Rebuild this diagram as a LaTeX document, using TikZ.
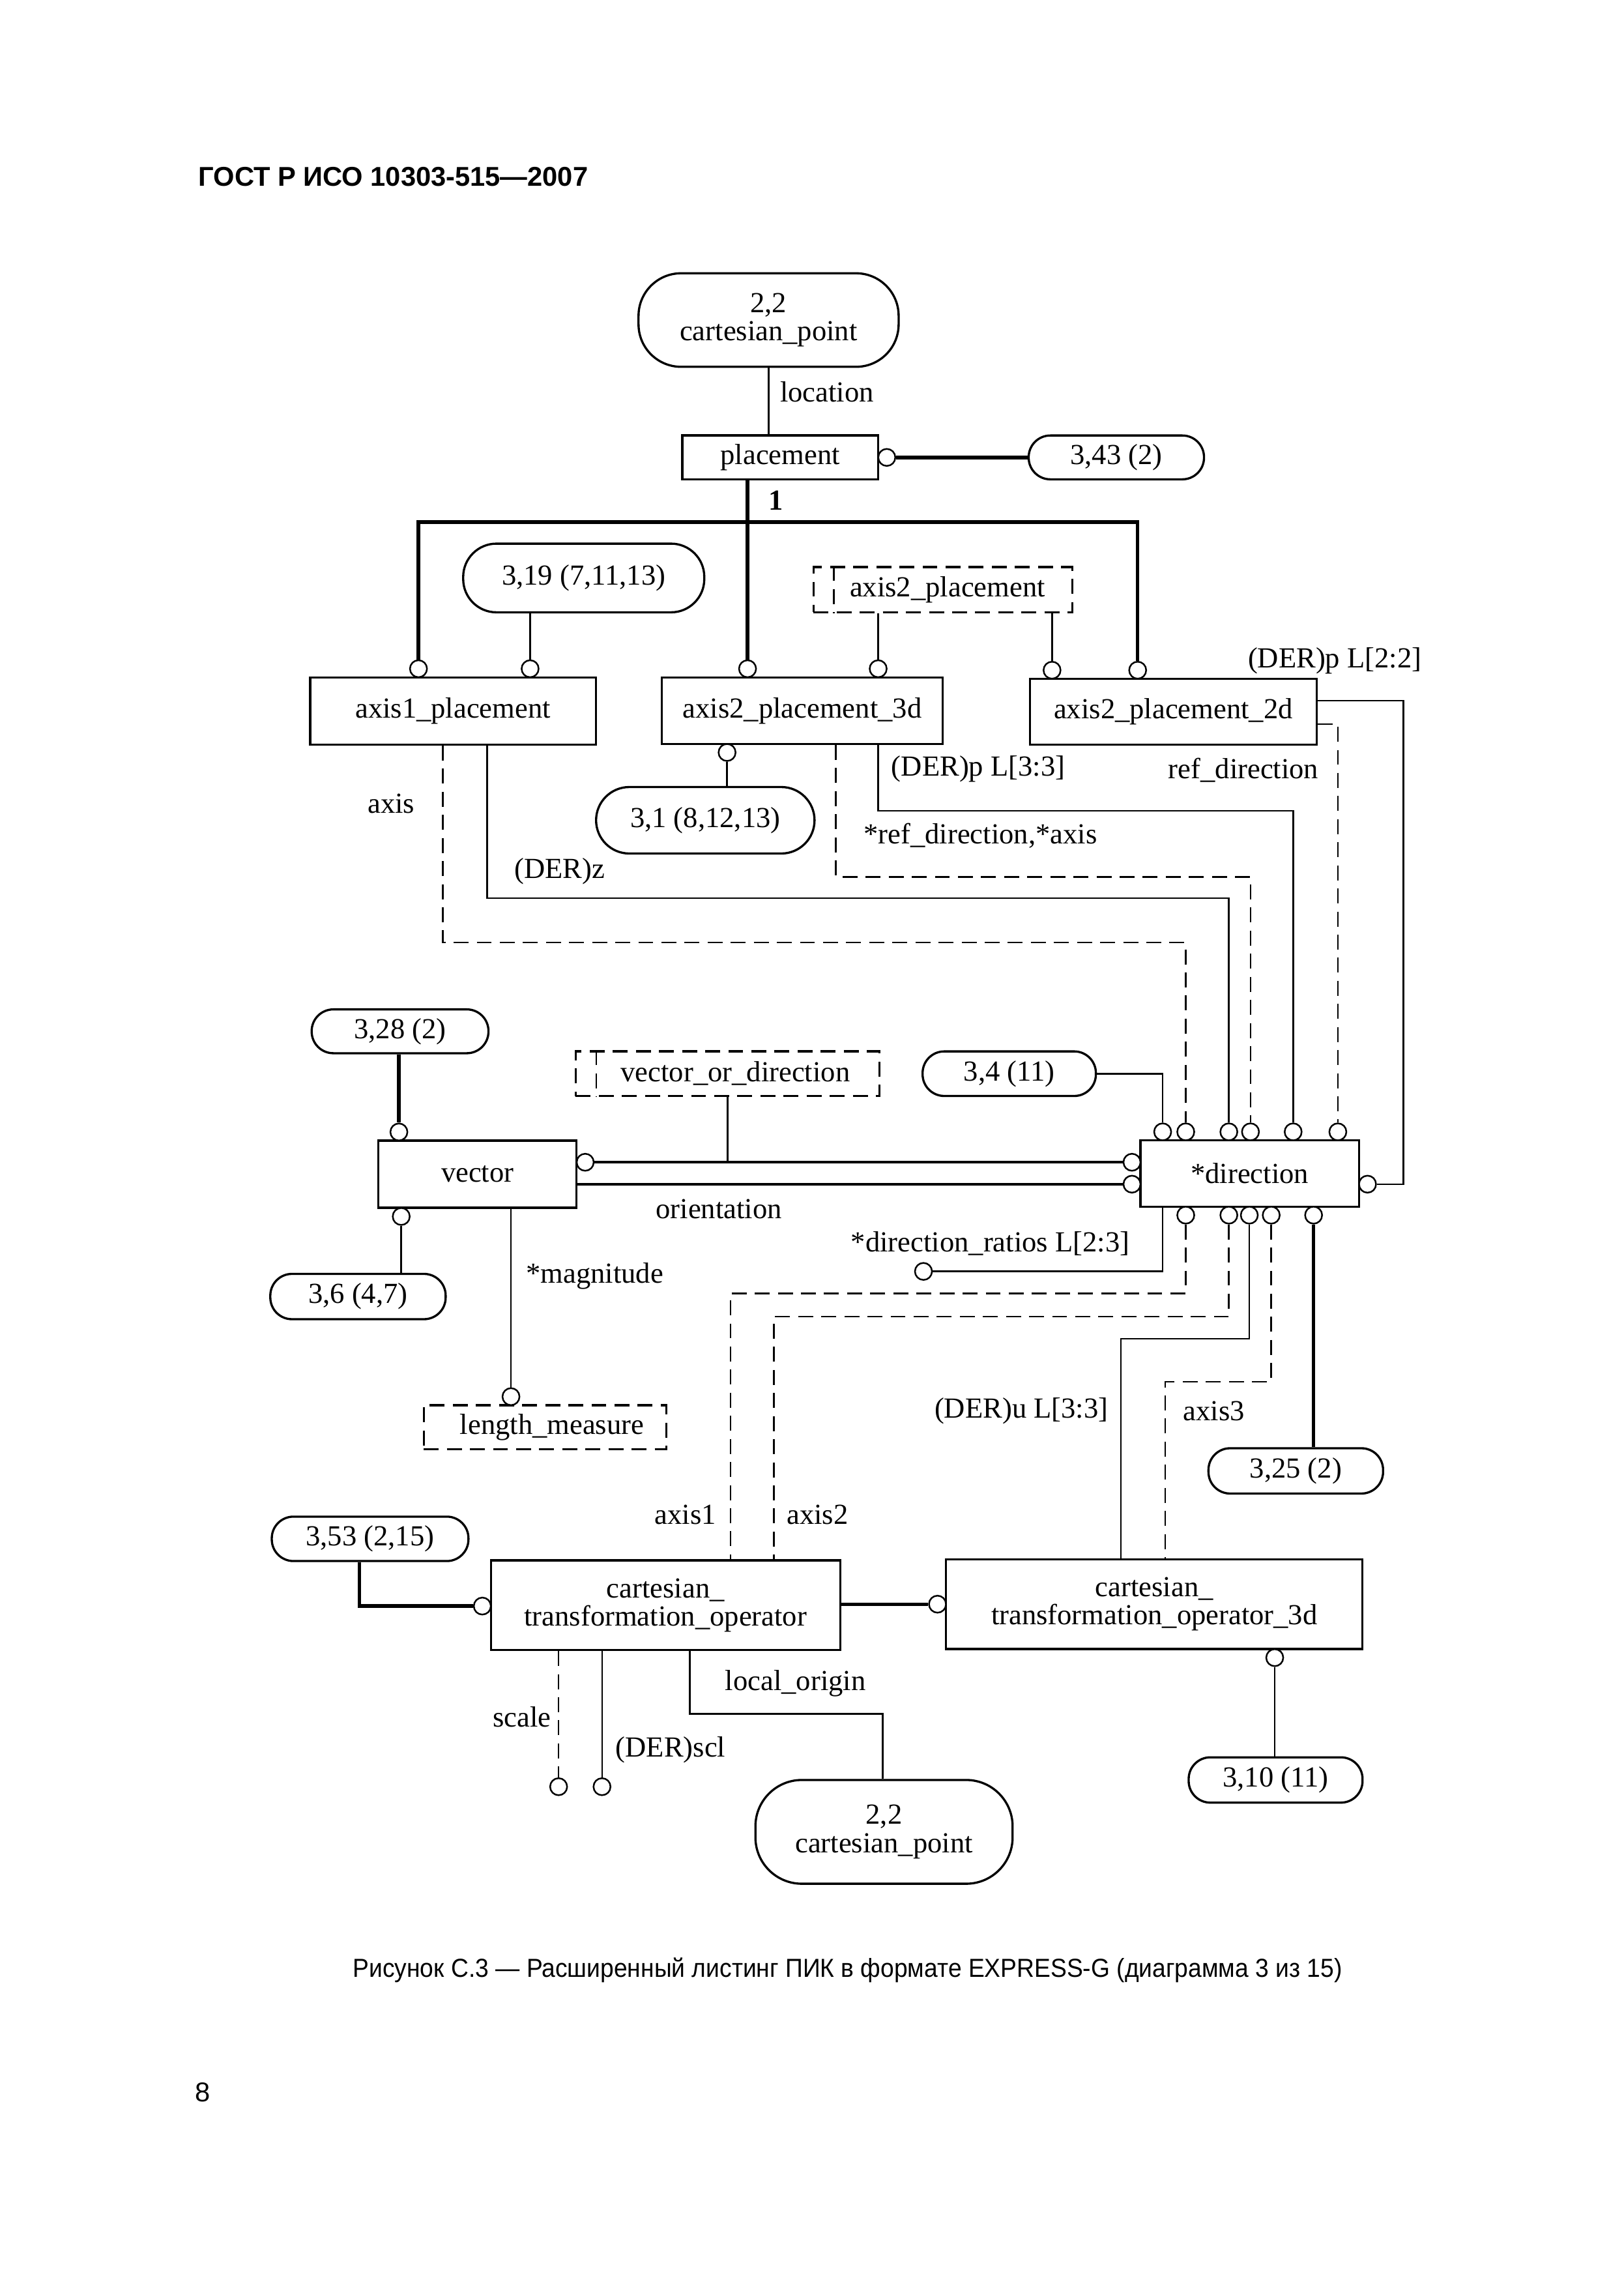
\documentclass[tikz,border=0pt]{standalone}
\usepackage{fontspec}
\usepackage{graphicx}
\setmainfont{Liberation Serif}
\newfontfamily\hdrfont{Liberation Sans}
\usetikzlibrary{calc}
\newcommand\dgfont{\fontsize{10.7}{10.4}\selectfont}
\begin{document}
\begin{tikzpicture}[x=0.0189cm, y=-0.0189cm,
  sz/.style 2 args={minimum width=#1*0.0189cm, minimum height=#2*0.0189cm},
  ent/.style={draw, line width=0.8pt, rectangle, inner sep=0pt, font=\dgfont, align=center},
  rnd/.style={draw, line width=0.8pt, rounded corners=#1, inner sep=0pt, font=\dgfont, align=center},
  dsh/.style={line width=0.6pt, dash pattern=on 5.5pt off 3pt},
  sel/.style={draw, line width=0.8pt, dash pattern=on 5.5pt off 3pt, inner sep=0pt, font=\dgfont, align=center},
  ring/.style={draw, circle, line width=0.6pt, inner sep=0pt, minimum size=0.22cm, fill=white},
  thn/.style={line width=0.6pt},
  med/.style={line width=1pt},
  thk/.style={line width=1.3pt},
  lbl/.style={font=\dgfont, inner sep=0pt}
]
\useasboundingbox (0,0) rectangle (1111,1567.7);
\fill[white] (0,0) rectangle (1111,1567.7);

% header, caption, page number
\node[anchor=base west, inner sep=0pt, font=\hdrfont\bfseries\fontsize{10}{12}\selectfont] (hdr) at (135.5,127.5) {ГОСТ Р ИСО 10303-515—2007};
\node[inner sep=0pt, font=\hdrfont\fontsize{9.6}{11}\selectfont] (cap) at (580,1348) {\scalebox{0.93}[1]{Рисунок С.3 — Расширенный листинг ПИК в формате EXPRESS-G (диаграмма 3 из 15)}};
\node[anchor=base west, inner sep=0pt, font=\hdrfont\fontsize{10}{12}\selectfont] (pg) at (133,1438) {8};

% entities and references
\node[rnd=0.55cm, sz={178}{64}] (cp1) at (526,219) {2,2\\cartesian\_point};
\node[ent, sz={134}{30}] (plc) at (534,313) {placement};
\node[rnd=0.28cm, sz={120}{30}] (r343) at (764,313) {3,43 (2)};
\node[rnd=0.43cm, sz={165}{47}] (r319) at (399.5,395.5) {3,19 (7,11,13)};
\node[sel, sz={177}{31}] (a2p) at (645.3,403.5) {\hspace*{0.12cm}axis2\_placement};
\node[ent, sz={195.5}{46}] (a1p) at (310,486.5) {axis1\_placement};
\node[ent, sz={192}{45.5}] (a23) at (549,486.3) {axis2\_placement\_3d};
\node[ent, sz={196}{45}] (a22) at (803,487) {axis2\_placement\_2d};
\node[rnd=0.43cm, sz={149.5}{45.5}] (r31) at (482.7,561.3) {3,1 (8,12,13)};
\node[rnd=0.28cm, sz={121}{30}] (r328) at (273.8,705.7) {3,28 (2)};
\node[sel, sz={208}{30.5}] (vod) at (498,734.7) {\hspace*{0.2cm}vector\_or\_direction};
\node[rnd=0.28cm, sz={118.6}{30.5}] (r34) at (690.7,734.7) {3,4 (11)};
\node[ent, sz={135.6}{46}] (vec) at (326.8,803.5) {vector};
\node[ent, sz={149.5}{45.3}] (dir) at (855.3,803) {*direction};
\node[rnd=0.28cm, sz={120}{31}] (r36) at (245,887.2) {3,6 (4,7)};
\node[sel, sz={166}{30}] (lm) at (373,976.6) {\hspace*{0.18cm}length\_measure};
\node[rnd=0.28cm, sz={119.5}{31}] (r325) at (886.8,1006.5) {3,25 (2)};
\node[rnd=0.28cm, sz={134.6}{30.4}] (r353) at (253.3,1053) {3,53 (2,15)};
\node[ent, sz={239}{61.3}] (cto) at (455.5,1098.4) {cartesian\_\\transformation\_operator};
\node[ent, sz={285}{61.4}] (cto3) at (790,1097.7) {cartesian\_\\transformation\_operator\_3d};
\node[rnd=0.28cm, sz={119}{31}] (r310) at (873,1218) {3,10 (11)};
\node[rnd=0.6cm, sz={176}{71}] (cp2) at (605,1253.5) {2,2\\cartesian\_point};

% select-type inner bars
\draw[dsh] ($(a2p.north west)+(14.7,0)$) -- ($(a2p.south west)+(14.7,0)$);
\draw[dsh] ($(vod.north west)+(14.8,0)$) -- ($(vod.south west)+(14.8,0)$);

% rings
\node[ring] (oP) at (606.9,313) {};
\node[ring] (oA1) at (286.4,457.6) {};
\node[ring] (oA2) at (362.8,457.6) {};
\node[ring] (oB1) at (511.6,457.6) {};
\node[ring] (oB2) at (601,457.6) {};
\node[ring] (oC1) at (720,458.6) {};
\node[ring] (oC2) at (778.6,458.6) {};
\node[ring] (oB3) at (497.6,514.9) {};
\node[ring] (oD1) at (795.7,774.5) {};
\node[ring] (oD2) at (811.5,774.5) {};
\node[ring] (oD3) at (841,774.5) {};
\node[ring] (oD4) at (855.8,774.5) {};
\node[ring] (oD5) at (885,774.5) {};
\node[ring] (oD6) at (915.6,774.5) {};
\node[ring] (oD7) at (774.7,795.3) {};
\node[ring] (oD8) at (774.7,810.3) {};
\node[ring] (oD9) at (935.9,810.3) {};
\node[ring] (oE1) at (811.5,831.5) {};
\node[ring] (oE2) at (841,831.5) {};
\node[ring] (oE3) at (855,831.5) {};
\node[ring] (oE4) at (870,831.5) {};
\node[ring] (oE5) at (899,831.5) {};
\node[ring] (oV1) at (273,774.6) {};
\node[ring] (oV2) at (400.5,795.3) {};
\node[ring] (oV3) at (274.6,832.4) {};
\node[ring] (oL) at (349.7,955.7) {};
\node[ring] (oR) at (632,870) {};
\node[ring] (oT1) at (330.1,1099) {};
\node[ring] (oT2) at (641.6,1097.7) {};
\node[ring] (oS1) at (382.3,1222.6) {};
\node[ring] (oS2) at (412,1222.6) {};
\node[ring] (oT3) at (872.4,1134.3) {};

% routing points
\coordinate (busL) at (286.4,357.3);
\coordinate (busR) at (778.6,357.3);
\coordinate (p1) at (303,645);
\coordinate (p2) at (333.4,614.5);
\coordinate (p3) at (572,600);
\coordinate (p4) at (601,554.8);
\coordinate (p5) at (915.6,495.4);
\coordinate (p6) at (960.5,479.5);
\coordinate (p7) at (795.7,870);
\coordinate (q1) at (500,885);
\coordinate (q2) at (529.7,901);
\coordinate (q3) at (767.2,916);
\coordinate (q4) at (797.4,945.6);
\coordinate (q5) at (246,1099);
\coordinate (q6) at (472,1172.8);
\coordinate (q7) at (604,1172.8);

% connectors
\draw[thn] (cp1.south) -- (cp1.south |- plc.north);
\draw[thk] (oP.east) -- (r343.west);
\draw[thk] (plc.south -| oB1) -- (oB1.north);
\draw[thk] (oA1.north) -- (busL) -- (busR) -- (oC2.north);
\draw[thn] (r319.south -| oA2) -- (oA2.north);
\draw[thn] (a2p.south -| oB2) -- (oB2.north);
\draw[thn] (a2p.south -| oC1) -- (oC1.north);
\draw[thn] (oB3.south) -- (oB3 |- r31.north);
\draw[dsh] (a1p.south -| p1) -- (p1) -| (oD2.north);
\draw[thn] (a1p.south -| p2) -- (p2) -| (oD3.north);
\draw[dsh] (a23.south -| p3) -- (p3) -| (oD4.north);
\draw[thn] (a23.south -| p4) -- (p4) -| (oD5.north);
\draw[dsh] (a22.east |- p5) -- (p5) -- (oD6.north);
\draw[thn] (a22.east |- p6) -- (p6) |- (oD9.east);
\draw[thn] (r34.east) -| (oD1.north);
\draw[med] (oV2.east) -- (oD7.west);
\draw[thn] (vod.south) -- (vod.south |- oV2);
\draw[med] (vec.east |- oD8) -- (oD8.west);
\draw[thk] (r328.south -| oV1) -- (oV1.north);
\draw[thn] (oV3.south) -- (oV3 |- r36.north);
\draw[thn] (vec.south -| oL) -- (oL.north);
\draw[thn] (dir.south -| p7) -- (p7) -- (oR.east);
\draw[dsh] (oE1.south) |- (q1) -- (q1 |- cto.north);
\draw[dsh] (oE2.south) |- (q2) -- (q2 |- cto.north);
\draw[thn] (oE3.south) |- (q3) -- (q3 |- cto3.north);
\draw[dsh] (oE4.south) |- (q4) -- (q4 |- cto3.north);
\draw[thk] (oE5.south) -- (oE5 |- r325.north);
\draw[thk] (r353.south -| q5) -- (q5) -- (oT1.west);
\draw[thk] (cto.east |- oT2) -- (oT2.west);
\draw[dsh] (cto.south -| oS1) -- (oS1.north);
\draw[thn] (cto.south -| oS2) -- (oS2.north);
\draw[thn] (cto.south -| q6) -- (q6) -- (q7) -- (q7 |- cp2.north);
\draw[thn] (oT3.south) -- (oT3 |- r310.north);

% labels
\node[lbl] (tLoc) at (566,268) {location};
\node[lbl, font=\dgfont\bfseries] (tOne) at (531,342.6) {1};
\node[lbl] (t1) at (913.5,452) {(DER)p L[2:2]};
\node[lbl] (t2) at (267.7,550) {axis};
\node[lbl] (t3) at (383,596) {(DER)z};
\node[lbl] (t4) at (671,572) {*ref\_direction,*axis};
\node[lbl] (t5) at (669.5,526) {(DER)p L[3:3]};
\node[lbl] (t6) at (851,527) {ref\_direction};
\node[lbl] (t7) at (492,827.2) {orientation};
\node[lbl] (t8) at (677.7,851) {*direction\_ratios L[2:3]};
\node[lbl] (t9) at (407,873.4) {*magnitude};
\node[lbl] (t10) at (699,965.7) {(DER)u L[3:3]};
\node[lbl] (t11) at (830.8,965.7) {axis3};
\node[lbl] (t12) at (469,1036.4) {axis1};
\node[lbl] (t13) at (559.5,1036.4) {axis2};
\node[lbl] (t14) at (357.3,1175) {scale};
\node[lbl] (t15) at (459,1197.6) {(DER)scl};
\node[lbl] (t16) at (544.4,1152) {local\_origin};
\end{tikzpicture}
\end{document}
